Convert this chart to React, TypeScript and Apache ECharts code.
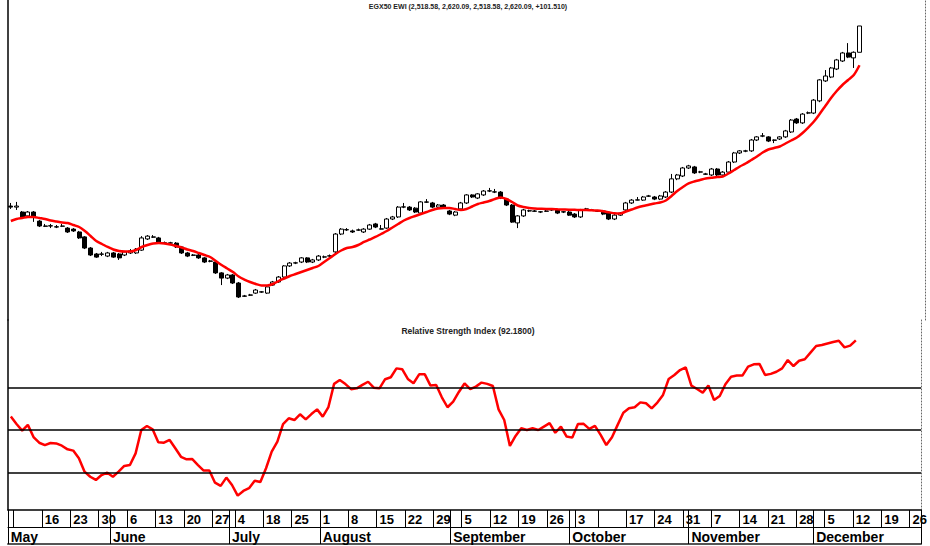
import React, { useEffect, useRef } from 'react';
import * as echarts from 'echarts';

// ---------- calendar / categories ----------
const startDate = '2022-05-08';
const endDate = '2022-12-27';
const holidays = ['2022-06-30', '2022-07-11', '2022-07-12', '2022-07-13', '2022-07-14', '2022-07-17', '2022-10-06'];
const hiddenWeekLabels = ['2022-05-02', '2022-05-09', '2022-10-10'];
const monthNames = ['January', 'February', 'March', 'April', 'May', 'June', 'July', 'August', 'September', 'October', 'November', 'December'];

// ---------- texts ----------
const priceTitle = 'EGX50 EWI (2,518.58, 2,620.09, 2,518.58, 2,620.09, +101.510)';
const rsiTitle = 'Relative Strength Index (92.1800)';
const rsiLevels = [70, 50, 30];

// ---------- price data (daily candles) ----------
const opens = [
  1925, 1921, 1902, 1887, 1902, 1867, 1848, 1849, 1845, 1847,
  1840, 1836, 1825, 1806, 1763, 1740, 1740, 1732, 1744, 1740,
  1736, 1744, 1744, 1755, 1798, 1806, 1802, 1783, 1782, 1782,
  1767, 1744, 1736, 1736, 1725, 1713, 1709, 1667, 1647, 1659,
  1628, 1578, 1582, 1589, 1593, 1589, 1620, 1632, 1651, 1694,
  1705, 1709, 1725, 1709, 1717, 1728, 1732, 1748, 1817, 1833,
  1829, 1832, 1825, 1836, 1856, 1837, 1840, 1875, 1883, 1921,
  1921, 1917, 1898, 1941, 1937, 1921, 1929, 1906, 1890, 1914,
  1937, 1968, 1956, 1968, 1983, 1979, 1979, 1952, 1929, 1860,
  1887, 1906, 1906, 1902, 1906, 1910, 1910, 1902, 1902, 1894,
  1883, 1913, 1910, 1906, 1906, 1898, 1875, 1890, 1910, 1937,
  1948, 1948, 1963, 1960, 1952, 1960, 1979, 2030, 2041, 2072,
  2076, 2056, 2049, 2045, 2068, 2045, 2056, 2095, 2130, 2137,
  2138, 2180, 2195, 2192, 2180, 2184, 2192, 2211, 2261, 2246,
  2284, 2284, 2331, 2408, 2423, 2454, 2485, 2516, 2497, 2518.58,
];
const closes = [
  1921, 1925, 1883, 1902, 1883, 1848, 1847, 1848, 1844, 1848,
  1825, 1829, 1802, 1763, 1736, 1728, 1739, 1744, 1728, 1725,
  1748, 1752, 1759, 1802, 1809, 1805, 1782, 1782, 1783, 1767,
  1744, 1732, 1735, 1725, 1709, 1712, 1667, 1647, 1659, 1628,
  1574, 1577, 1581, 1601, 1594, 1613, 1632, 1651, 1694, 1705,
  1706, 1725, 1709, 1717, 1732, 1729, 1733, 1817, 1836, 1834,
  1825, 1833, 1836, 1852, 1844, 1836, 1875, 1883, 1921, 1922,
  1910, 1902, 1941, 1940, 1921, 1929, 1917, 1894, 1902, 1937,
  1968, 1960, 1972, 1983, 1984, 1980, 1956, 1929, 1863, 1887,
  1910, 1907, 1905, 1903, 1905, 1911, 1898, 1903, 1890, 1883,
  1910, 1914, 1909, 1905, 1894, 1875, 1890, 1898, 1937, 1948,
  1949, 1960, 1964, 1952, 1964, 1979, 2030, 2045, 2072, 2080,
  2053, 2057, 2048, 2068, 2045, 2056, 2095, 2130, 2138, 2138,
  2180, 2192, 2196, 2176, 2179, 2192, 2215, 2257, 2246, 2280,
  2285, 2334, 2412, 2427, 2458, 2489, 2516, 2500, 2518.58, 2620.09,
];
const highs = [
  1937, 1941, 1906, 1906, 1906, 1871, 1856, 1856, 1852, 1856,
  1844, 1840, 1829, 1809, 1767, 1744, 1748, 1748, 1748, 1744,
  1752, 1759, 1763, 1809, 1813, 1813, 1806, 1788, 1787, 1786,
  1771, 1748, 1740, 1740, 1728, 1717, 1713, 1670, 1663, 1663,
  1632, 1582, 1586, 1605, 1597, 1616, 1636, 1655, 1697, 1709,
  1710, 1728, 1728, 1721, 1736, 1734, 1738, 1821, 1840, 1840,
  1834, 1838, 1840, 1856, 1860, 1852, 1879, 1887, 1925, 1937,
  1925, 1921, 1944, 1952, 1941, 1933, 1933, 1910, 1906, 1941,
  1971, 1971, 1975, 1987, 1995, 1991, 1983, 1956, 1933, 1890,
  1914, 1911, 1910, 1906, 1910, 1914, 1914, 1906, 1906, 1898,
  1914, 1918, 1914, 1910, 1910, 1902, 1894, 1902, 1941, 1952,
  1960, 1964, 1968, 1964, 1968, 1983, 2049, 2049, 2076, 2084,
  2080, 2061, 2053, 2072, 2072, 2060, 2099, 2134, 2141, 2142,
  2184, 2195, 2207, 2195, 2182, 2195, 2219, 2261, 2265, 2284,
  2290, 2338, 2415, 2450, 2462, 2493, 2520, 2554, 2522, 2620.09,
];
const lows = [
  1914, 1910, 1879, 1883, 1864, 1844, 1844, 1840, 1840, 1844,
  1821, 1825, 1798, 1759, 1732, 1725, 1732, 1728, 1725, 1717,
  1732, 1740, 1740, 1752, 1794, 1802, 1779, 1778, 1779, 1763,
  1740, 1728, 1732, 1721, 1705, 1708, 1663, 1620, 1643, 1624,
  1570, 1574, 1578, 1586, 1590, 1586, 1617, 1628, 1647, 1690,
  1701, 1705, 1705, 1705, 1713, 1724, 1728, 1744, 1813, 1829,
  1821, 1829, 1821, 1833, 1840, 1835, 1837, 1871, 1879, 1917,
  1906, 1898, 1894, 1937, 1917, 1917, 1914, 1890, 1886, 1910,
  1933, 1956, 1952, 1964, 1979, 1975, 1952, 1925, 1860, 1840,
  1883, 1902, 1902, 1898, 1902, 1906, 1894, 1898, 1887, 1879,
  1879, 1910, 1906, 1902, 1890, 1871, 1871, 1887, 1906, 1933,
  1947, 1945, 1960, 1948, 1948, 1956, 1975, 2025, 2037, 2068,
  2049, 2052, 2045, 2041, 2041, 2041, 2053, 2091, 2126, 2133,
  2134, 2176, 2191, 2172, 2168, 2180, 2188, 2207, 2242, 2242,
  2280, 2280, 2326, 2404, 2419, 2450, 2481, 2496, 2458, 2518.58,
];

// ---------- moving average (red line) ----------
const maValues = [
  1867.3, 1875.1, 1878.9, 1882.8, 1882.8, 1878.9, 1875.1, 1869.3, 1865.4, 1861.6,
  1859.6, 1851.9, 1844.2, 1828.7, 1809.4, 1790.1, 1778.6, 1767.0, 1757.3, 1751.5,
  1749.6, 1749.6, 1755.4, 1767.0, 1774.7, 1780.5, 1782.4, 1780.5, 1776.6, 1770.8,
  1765.1, 1757.3, 1751.5, 1743.8, 1736.1, 1728.4, 1712.9, 1697.5, 1684.0, 1670.5,
  1653.1, 1641.5, 1631.9, 1624.2, 1618.4, 1618.4, 1624.2, 1635.7, 1645.4, 1655.0,
  1662.8, 1670.5, 1678.2, 1685.9, 1693.6, 1709.1, 1724.5, 1740.0, 1753.5, 1763.1,
  1767.0, 1774.7, 1786.3, 1795.9, 1805.6, 1817.2, 1828.7, 1842.3, 1855.8, 1869.3,
  1878.9, 1886.6, 1894.4, 1902.1, 1909.8, 1915.6, 1917.5, 1917.5, 1913.6, 1909.8,
  1913.6, 1923.3, 1932.9, 1938.8, 1944.5, 1952.3, 1958.1, 1952.3, 1940.7, 1927.2,
  1921.4, 1917.5, 1915.6, 1914.4, 1913.6, 1913.6, 1912.5, 1911.7, 1910.9, 1910.6,
  1909.8, 1909.8, 1908.6, 1907.5, 1904.8, 1900.9, 1897.1, 1896.3, 1904.0, 1911.7,
  1919.5, 1925.2, 1929.9, 1934.9, 1938.8, 1946.5, 1963.8, 1983.1, 1998.6, 2012.1,
  2019.8, 2025.6, 2031.4, 2034.1, 2037.2, 2039.1, 2050.7, 2064.2, 2077.7, 2089.3,
  2102.8, 2116.3, 2131.8, 2143.3, 2149.1, 2154.9, 2166.5, 2178.1, 2189.7, 2207.0,
  2228.3, 2251.4, 2280.4, 2311.2, 2342.1, 2369.1, 2392.3, 2411.6, 2430.9, 2468.5,
];

// ---------- RSI ----------
const rsiValues = [
  56.3, 52.8, 49.7, 52.4, 46.7, 44.0, 42.9, 43.9, 43.7, 42.6,
  40.9, 40.3, 36.7, 30.4, 28.0, 26.5, 28.8, 29.9, 28.0, 30.4,
  33.1, 33.5, 39.0, 50.0, 51.9, 50.3, 44.2, 44.0, 45.3, 41.4,
  37.4, 36.2, 36.3, 33.5, 30.9, 30.9, 25.2, 23.7, 27.6, 24.1,
  19.1, 21.3, 22.6, 26.1, 25.5, 32.0, 39.8, 44.5, 52.8, 55.5,
  54.7, 57.4, 55.0, 57.5, 59.7, 56.3, 60.8, 71.7, 73.5, 71.6,
  69.2, 69.6, 71.2, 72.7, 69.9, 69.6, 73.9, 74.8, 79.0, 78.6,
  74.0, 72.0, 76.2, 76.2, 70.9, 71.2, 65.4, 60.7, 63.3, 67.9,
  71.9, 69.2, 70.4, 72.3, 71.7, 70.7, 59.7, 54.7, 42.5, 47.2,
  50.8, 50.0, 50.8, 50.0, 51.6, 53.2, 48.7, 51.6, 46.9, 46.4,
  52.8, 52.9, 50.5, 51.9, 47.7, 42.9, 46.6, 52.4, 58.1, 60.2,
  60.7, 63.0, 62.6, 60.2, 62.9, 66.5, 74.0, 75.9, 78.2, 79.5,
  70.9, 69.3, 67.6, 70.9, 64.1, 66.0, 71.5, 75.1, 75.6, 75.6,
  79.8, 80.9, 81.1, 75.9, 76.4, 77.4, 79.0, 82.9, 80.1, 82.6,
  83.3, 86.4, 89.5, 90.0, 90.7, 91.4, 92.0, 88.9, 89.7, 92.18,
];

function isoOf(d: Date): string {
  return d.toISOString().slice(0, 10);
}

function buildTradingDays(): string[] {
  const out: string[] = [];
  const d = new Date(startDate + 'T00:00:00Z');
  const end = new Date(endDate + 'T00:00:00Z');
  while (d.getTime() <= end.getTime()) {
    const dow = d.getUTCDay();
    const iso = isoOf(d);
    if (dow !== 5 && dow !== 6 && holidays.indexOf(iso) < 0) out.push(iso);
    d.setUTCDate(d.getUTCDate() + 1);
  }
  return out;
}

function mondayOf(iso: string): Date {
  const d = new Date(iso + 'T00:00:00Z');
  const back = (d.getUTCDay() + 6) % 7;
  d.setUTCDate(d.getUTCDate() - back);
  return d;
}

export default function App() {
  const ref = useRef<HTMLDivElement>(null);

  useEffect(() => {
    if (!ref.current) return;
    const chart = echarts.init(ref.current, undefined, { renderer: 'svg' });

    const dates = buildTradingDays();
    const weekKeys = dates.map((d) => isoOf(mondayOf(d)));
    const weekStart = dates.map((_, i) => i === 0 || weekKeys[i] !== weekKeys[i - 1]);
    const monthStart = dates.map((d, i) => i === 0 || d.slice(5, 7) !== dates[i - 1].slice(5, 7));
    const showWeekLabel = dates.map((_, i) => weekStart[i] && hiddenWeekLabels.indexOf(weekKeys[i]) < 0);

    const candleData = opens.map((o, i) => [o, closes[i], lows[i], highs[i]]);

    const font = 'Liberation Sans';
    const rightLine = { show: true, lineStyle: { color: '#666', width: 1, type: [1, 2] } };

    const option: any = {
      animation: false,
      backgroundColor: '#ffffff',
      grid: [
        { left: 8, right: 5, top: 0, height: 320 },
        { left: 8, right: 5, top: 320, height: 190 },
      ],
      graphic: [
        {
          type: 'text', x: 468, y: 6, silent: true,
          style: { text: priceTitle, fontSize: 7, fontWeight: 'bold', fontFamily: font, fill: '#222', align: 'center', verticalAlign: 'middle' },
        },
        {
          type: 'text', x: 468, y: 331, silent: true,
          style: { text: rsiTitle, fontSize: 8.5, fontWeight: 'bold', fontFamily: font, fill: '#222', align: 'center', verticalAlign: 'middle' },
        },
      ],
      xAxis: [
        { gridIndex: 0, type: 'category', data: dates, boundaryGap: true, show: false },
        {
          gridIndex: 1, type: 'category', data: dates, boundaryGap: true, position: 'bottom',
          axisLine: { show: true, onZero: false, lineStyle: { color: '#000', width: 1.5 } },
          axisTick: { show: true, length: 17, interval: (i: number) => weekStart[i] || monthStart[i], lineStyle: { color: '#000', width: 1 } },
          axisLabel: {
            show: true, interval: (i: number) => showWeekLabel[i], align: 'left', margin: 3,
            formatter: (v: string) => String(mondayOf(v).getUTCDate()),
            fontSize: 13, fontWeight: 'bold', fontFamily: font, color: '#000',
          },
          splitLine: { show: false },
        },
        {
          gridIndex: 1, type: 'category', data: dates, boundaryGap: true, position: 'bottom', offset: 17,
          axisLine: { show: true, onZero: false, lineStyle: { color: '#000', width: 1 } },
          axisTick: { show: true, length: 17, interval: (i: number) => monthStart[i], lineStyle: { color: '#000', width: 1 } },
          axisLabel: {
            show: true, interval: (i: number) => monthStart[i], align: 'left', margin: 3,
            formatter: (v: string) => monthNames[parseInt(v.slice(5, 7), 10) - 1],
            fontSize: 14, fontWeight: 'bold', fontFamily: font, color: '#000',
          },
          splitLine: { show: false },
        },
        {
          gridIndex: 1, type: 'category', data: dates, boundaryGap: true, position: 'bottom', offset: 34,
          axisLine: { show: true, onZero: false, lineStyle: { color: '#555', width: 2 } },
          axisTick: { show: false }, axisLabel: { show: false }, splitLine: { show: false },
        },
      ],
      yAxis: [
        {
          gridIndex: 0, type: 'value', min: 1485.2, max: 2720.4, position: 'left',
          axisLine: { show: true, lineStyle: { color: '#000', width: 1.5 } },
          axisTick: { show: false }, axisLabel: { show: false }, splitLine: { show: false },
        },
        {
          gridIndex: 0, type: 'value', min: 1485.2, max: 2720.4, position: 'right',
          axisLine: rightLine,
          axisTick: { show: false }, axisLabel: { show: false }, splitLine: { show: false },
        },
        {
          gridIndex: 1, type: 'value', min: 12.35, max: 101.76, position: 'left',
          axisLine: { show: true, lineStyle: { color: '#000', width: 1.5 } },
          axisTick: { show: false }, axisLabel: { show: false }, splitLine: { show: false },
        },
        {
          gridIndex: 1, type: 'value', min: 12.35, max: 101.76, position: 'right',
          axisLine: rightLine,
          axisTick: { show: false }, axisLabel: { show: false }, splitLine: { show: false },
        },
      ],
      series: [
        {
          name: 'EGX50 EWI', type: 'candlestick', xAxisIndex: 0, yAxisIndex: 0,
          data: candleData, barWidth: 4.5,
          itemStyle: { color: '#ffffff', color0: '#000000', borderColor: '#000000', borderColor0: '#000000', borderColorDoji: '#000000', borderWidth: 1 },
          z: 3,
        },
        {
          name: 'MA', type: 'line', xAxisIndex: 0, yAxisIndex: 0, data: maValues,
          showSymbol: false, smooth: 0.3, lineStyle: { color: '#ff0000', width: 2.5 }, z: 4,
        },
        {
          name: 'RSI', type: 'line', xAxisIndex: 1, yAxisIndex: 2, data: rsiValues,
          showSymbol: false, lineStyle: { color: '#ff0000', width: 2.5 }, z: 4,
          markLine: {
            silent: true, symbol: 'none', label: { show: false },
            lineStyle: { color: '#000', width: 1.5, type: 'solid' },
            data: rsiLevels.map((v) => ({ yAxis: v })),
          },
        },
      ],
    };

    chart.setOption(option);
    return () => chart.dispose();
  }, []);

  return (
    <div
      ref={ref}
      style={{ position: 'fixed', left: 0, top: 0, width: 930, height: 546, background: '#fff' }}
    />
  );
}
